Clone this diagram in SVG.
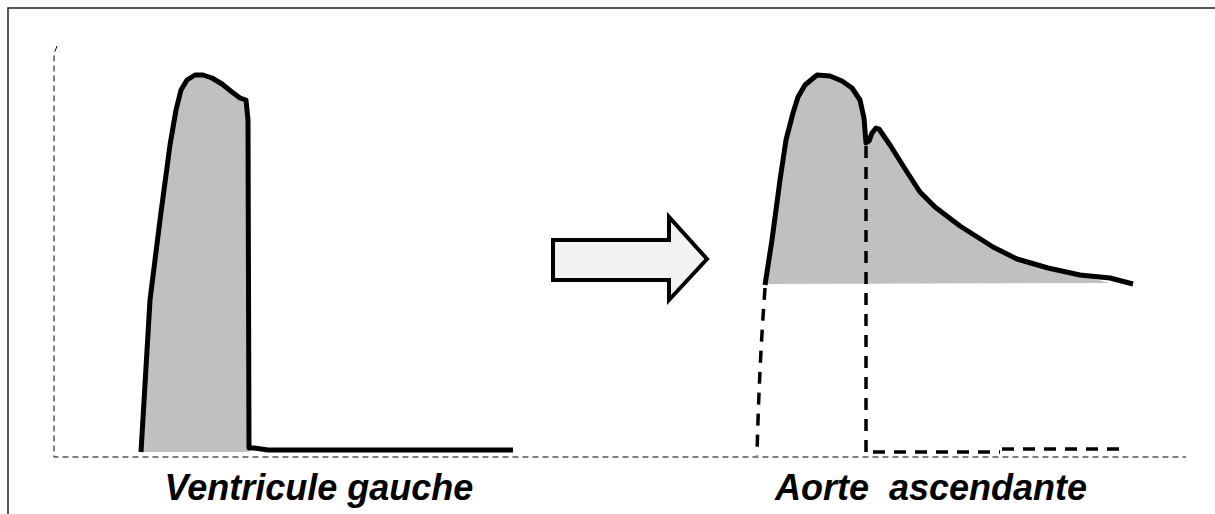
<svg xmlns="http://www.w3.org/2000/svg" width="1215" height="514" viewBox="0 0 1215 514">
<style>
.axis{fill:none;stroke:#000;stroke-width:1;stroke-dasharray:6,4}
.curve{fill:none;stroke:#000;stroke-width:5;stroke-linejoin:round}
.area{fill:#c0c0c0;stroke:none}
.dash{fill:none;stroke:#000;stroke-width:3.5;stroke-dasharray:12,9}
.label{font-family:"Liberation Sans",Arial,sans-serif;font-weight:bold;font-style:italic;font-size:36px;fill:#000}
</style>
<rect width="1215" height="514" fill="#fff"/>
<g id="frame">
<path d="M8,514 L8,8 L1215,8" fill="none" stroke="#222" stroke-width="1.5"/>
</g>
<g id="axes">
<path class="axis" d="M57,46 L54,54 L54,457 L1186,457"/>
</g>
<g id="ventricle">
<path class="area" d="M141,452 L150,300 L160,220 L170,145 L176,110 L181,90 L187,80 L195,75 L203,75 L212,78 L222,84 L232,92 L240,98 L246,100 L248,120 L249,452 Z"/>
<path class="curve" d="M141,452 L150,300 L160,220 L170,145 L176,110 L181,90 L187,80 L195,75 L203,75 L212,78 L222,84 L232,92 L240,98 L246,100 L248,120 L249,448 L254,448 L268,450 L513,450"/>
</g>
<g id="arrow">
<path d="M553,240 L669,240 L669,217 L707,259 L669,300 L669,280 L553,280 Z" fill="#f2f2f2" stroke="#000" stroke-width="4" stroke-linejoin="miter"/>
</g>
<g id="aorta">
<path class="area" d="M765,284 L772,240 L780,180 L786,140 L793,113 L798,97 L805,85 L817,75 L830,76 L842,81 L852,88 L860,100 L864,118 L866,143 L869,141 L872,133 L876,128 L879,129 L890,145 L907,172 L920,192 L935,207 L960,226 L993,247 L1017,259 L1048,268 L1080,275 L1110,283 Z"/>
<path class="curve" d="M765,285 L772,240 L780,180 L786,140 L793,113 L798,97 L805,85 L817,75 L830,76 L842,81 L852,88 L860,100 L864,118 L866,143 L869,141 L872,133 L876,128 L879,129 L890,145 L907,172 L920,192 L935,207 L960,226 L993,247 L1017,259 L1048,268 L1080,275 L1110,278 L1133,284"/>
</g>
<g id="connectors">
<path class="dash" d="M765,288 Q759,370 757,456"/>
<path class="dash" d="M866,146 L866,455"/>
<path class="dash" d="M873,452 L1000,452"/>
<path class="dash" d="M1002,449 L1120,449"/>
</g>
<g id="labels">
<text class="label" x="319" y="500" text-anchor="middle">Ventricule gauche</text>
<text class="label" x="931" y="500" text-anchor="middle" xml:space="preserve">Aorte  ascendante</text>
</g>
</svg>
